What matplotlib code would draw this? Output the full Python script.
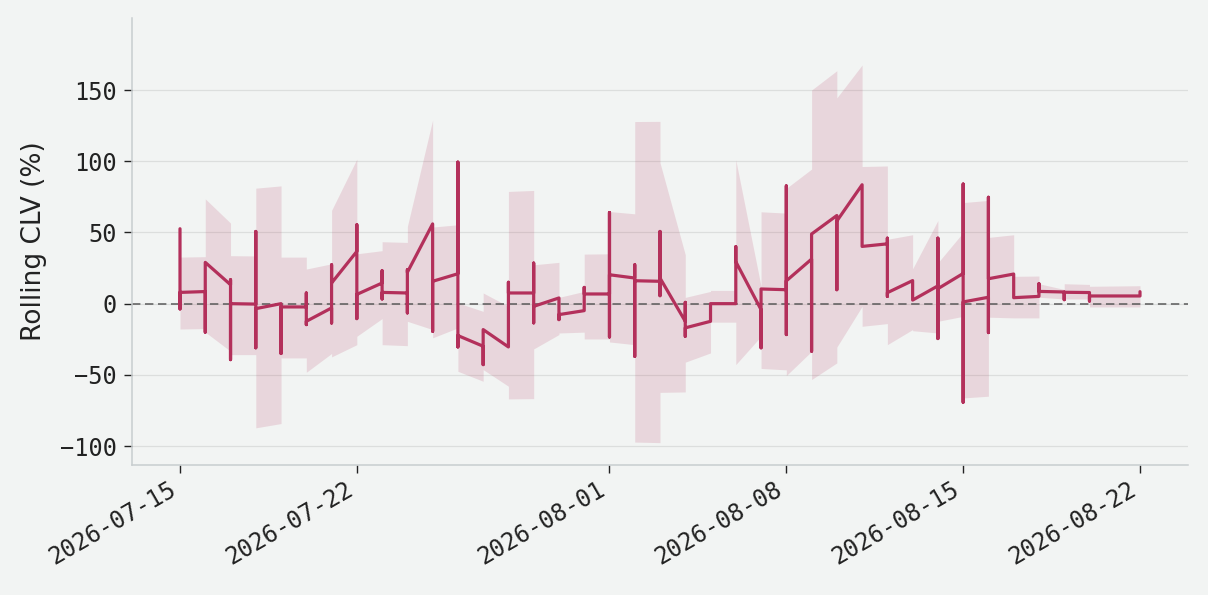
import numpy as np
import pandas as pd
import matplotlib
matplotlib.use("Agg")
import matplotlib.pyplot as plt
import matplotlib.dates as mdates

# one list of rolling CLV values per day (several bets per day -> vertical runs)
days = pd.date_range("2026-07-15", "2026-08-22", freq="D")
clv_by_day = [
    [52.6, -3.7, 7.9],
    [8.5, -20, 29],
    [13.3, 16.8, -39.3, 0],
    [-0.3, 50.7, -31, -3.5],
    [0, -35, -2.3],
    [-2.3, 7.5, -14.7, -12.4],
    [-3, -13.6, 27.3, 14.5],
    [36.7, 55.4, -10.5, 6.5],
    [14.5, 23.1, 3.3, 7.9],
    [7.5, -6.5, 23.8, 22],
    [56, -19.4, 15.7],
    [21, 99.4, -30.4, -22.4],
    [-29.9, -42.8, -18.2],
    [-30.4, 15, 7.5],
    [7.5, 28.5, -13.5, -1.9],
    [4, -11.2, -7.7],
    [-4.9, 11.4, 6.8],
    [6.8, 64, -23.4, 20.3],
    [18, 27.3, -37, 16.1],
    [15.7, 50.7, 5.6, 18],
    [-12.4, 0.9, -22.9, -17],
    [-12.4, 0],
    [0, 40, 29.5],
    [-4.2, -31, 10.3],
    [9.8, 82.7, -21.7, 16],
    [31.3, -33.4, 48.9],
    [61.9, 9.8, 58],
    [83.5, 40.2],
    [42, 46, 5.1, 7.7],
    [16.2, 2.5],
    [12.5, 46, -24.5, 10.5],
    [21.2, 84, -69.2, 1.2],
    [4.5, -20.3, 74.7, 17.5],
    [20.8, 4.2],
    [5.1, 14, 8.6],
    [8.2, 2.8, 8],
    [7.8, 1.8, 5.4],
    [5.4, 5.4],
    [5.4, 8.4],
]

# band edges: value at the first and at the last bet of each day
band_hi_in = [32.7, 33, 56.6, 33.5, 82.7, 32.7, 28, 101.5, 37.2, 43,
              129, 55.4, -5.4, -1.9, 79.5, 29, 8.6, 35, 63.1, 128,
              34.4, 8.6, 9.3, 12.2, 63.6, 94.5, 163.6, 167.6, 96.7, 48.4,
              58.4, 50, 72.5, 48.4, 19.4, 10, 13.5, 12.4, 12.6]
band_hi_out = [32.7, 73.6, 33.7, 81.1, 32.7, 24.3, 65.5, 35, 43.5, 54.2,
               53.8, 0.5, 7.5, 78.8, 27.3, 4.4, 34.8, 64.7, 127.9, 99,
               4.4, 9.3, 101, 64.5, 81, 150, 144.5, 96.3, 45.2, 24.5,
               28.7, 71, 46.5, 19.2, 14, 14, 12.2, 12.4, 12.6]
band_lo_in = [-17.8, -17.5, -33.4, -35.8, -84.2, -38.1, -35, -28.8, -10.5, -29.5,
              -18.2, -17, -54.5, -58, -66.7, -21.7, -20, -24.8, -28.8, -97.6,
              -62, -34.6, -13, -22.9, -46.5, -33.5, -41.6, -1.9, -14, -18.2,
              -20.6, -8.9, -65, -10, -10, 3.3, 3.3, -2.3, -2.3]
band_lo_out = [-17.8, -20, -35.8, -87.2, -38.1, -48.2, -37.4, -22.9, -28.8, -12.4,
               -24, -47.5, -46.3, -66.9, -31.8, -20.6, -24.8, -26.9, -97.2, -62.3,
               -41.1, -13, -42.8, -45.5, -50.5, -53.3, -30.5, -15.9, -28.8, -19,
               -12.4, -66.2, -9.5, -10, 4.5, 3.3, -2.3, -2.3, -2.3]

# flatten into one row per bet
xs, ys, his, los = [], [], [], []
for d, seq, ha, hb, la, lb in zip(days, clv_by_day, band_hi_in, band_hi_out,
                                  band_lo_in, band_lo_out):
    n = len(seq)
    for k, v in enumerate(seq):
        xs.append(d)
        ys.append(v)
        his.append(ha if k < n - 1 else hb)
        los.append(la if k < n - 1 else lb)
df = pd.DataFrame({"date": xs, "clv": ys, "hi": his, "lo": los})

bg = "#f2f4f3"
line_color = "#b3305b"

fig = plt.figure(figsize=(12.08, 5.95), dpi=100, facecolor=bg)
ax = fig.add_axes([132 / 1208, 1 - 465 / 595, 1056 / 1208, 447 / 595])
ax.set_facecolor(bg)

ax.fill_between(df["date"], df["lo"], df["hi"], color=line_color, alpha=0.15,
                linewidth=0, zorder=1)
ax.axhline(0, color="#5a5a5a", lw=1.1, dashes=(5.5, 3), zorder=1.5)
ax.plot(df["date"], df["clv"], color=line_color, lw=2.3,
        solid_capstyle="round", solid_joinstyle="round", zorder=2)

ax.set_ylim(-113.3, 200.6)
ax.set_yticks([-100, -50, 0, 50, 100, 150])
ax.grid(axis="y", color="#dcdedd", lw=0.9, zorder=0)
ax.set_axisbelow(True)

ax.xaxis.set_major_locator(mdates.DayLocator(bymonthday=[1, 8, 15, 22]))
ax.xaxis.set_major_formatter(mdates.DateFormatter("%Y-%m-%d"))

for s in ["top", "right"]:
    ax.spines[s].set_visible(False)
for s in ["left", "bottom"]:
    ax.spines[s].set_color("#c8cdcf")
    ax.spines[s].set_linewidth(1.1)

ax.tick_params(axis="both", colors="#222222", length=5.5, width=1,
               labelsize=17)
ax.tick_params(axis="y", pad=5.5)
for lab in ax.get_xticklabels() + ax.get_yticklabels():
    lab.set_fontfamily("DejaVu Sans Mono")
for lab in ax.get_xticklabels():
    lab.set_rotation(30)
    lab.set_ha("right")

ax.set_ylabel("Rolling CLV (%)", fontsize=19, color="#222222",
              fontfamily="DejaVu Sans", labelpad=9)

fig.savefig("out.png", dpi=100, facecolor=bg)
